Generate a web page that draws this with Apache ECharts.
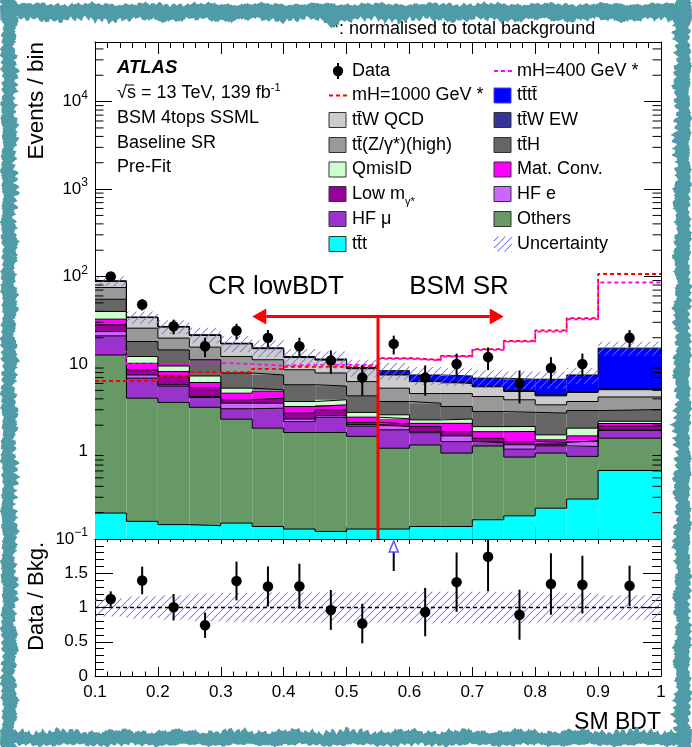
<!DOCTYPE html>
<html>
<head>
<meta charset="utf-8">
<title>SM BDT - BSM 4tops SSML</title>
<script src="https://cdn.jsdelivr.net/npm/echarts@6.0.0/dist/echarts.min.js"></script>
<style>
html, body { margin: 0; padding: 0; background: #ffffff; }
#chart { width: 692px; height: 747px; }
</style>
</head>
<body>
<div id="chart"></div>
<script>
// ---- binning of the SM BDT score ----
const binEdges = [0.10, 0.15, 0.20, 0.25, 0.30, 0.35, 0.40, 0.45, 0.50, 0.55, 0.60, 0.65, 0.70, 0.75, 0.80, 0.85, 0.90, 1.00];

// ---- pre-fit background yields per bin (events / bin) ----
const tttBkg     = [0.198, 0.159, 0.146, 0.142, 0.152, 0.139, 0.130, 0.122, 0.130, 0.130, 0.139, 0.139, 0.166, 0.184, 0.225, 0.286, 0.607];
const othersBkg  = [12.5, 3.91, 3.49, 3.06, 2.19, 1.71, 1.52, 1.53, 1.36, 0.96, 1.05, 0.82, 0.99, 0.68, 0.735, 0.594, 0.813];
const hfMuBkg    = [8.3, 2.83, 1.96, 0.95, 0.74, 1.28, 0.55, 0.80, 0.46, 0.68, 0.45, 0.34, 0.11, 0.20, 0.20, 0.26, 0.32];
const hfEBkg     = [2.5, 0.60, 0.20, 0.11, 0.49, 0.44, 0.15, 0.11, 0.08, 0.16, 0.05, 0.21, 0.03, 0.13, 0.03, 0.16, 0.02];
const lowMBkg    = [4.6, 1.10, 1.50, 1.14, 0.33, 0.50, 0.40, 0.44, 0.12, 0.14, 0.24, 0.18, 0.12, 0.11, 0.08, 0.03, 0.19];
const matConvBkg = [4.5, 1.60, 0.90, 0.75, 0.74, 0.83, 0.52, 0.42, 0.32, 0.30, 0.17, 0.41, 0.27, 0.39, 0.09, 0.18, 0.14];
const qmisIDBkg  = [7.3, 2.00, 1.30, 1.15, 0.66, 0.17, 0.46, 0.48, 0.33, 0.26, 0.20, 0.25, 0.24, 0.24, 0.19, 0.34, 0.13];
const ttHBkg     = [15.1, 5.9, 5.0, 3.9, 2.6, 2.43, 2.07, 1.70, 1.53, 1.10, 1.27, 0.92, 0.94, 0.87, 1.20, 1.09, 0.80];
const ttZBkg     = [20.0, 7.6, 5.3, 4.4, 4.3, 3.7, 2.8, 2.3, 1.97, 1.57, 1.03, 1.33, 1.39, 1.10, 0.67, 0.79, 1.18];
const ttWQCDBkg  = [13.5, 8.3, 6.7, 5.6, 4.8, 3.8, 3.3, 3.2, 2.55, 2.20, 1.70, 1.40, 1.24, 0.95, 0.91, 1.00, 0.89];
const ttWEWBkg   = [0.30, 0.20, 0.20, 0.20, 0.15, 0.15, 0.15, 0.15, 0.15, 0.10, 0.10, 0.10, 0.10, 0.10, 0.10, 0.10, 0.10];
const ttttBkg    = [0.20, 0.20, 0.20, 0.20, 0.15, 0.15, 0.15, 0.15, 0.15, 0.80, 1.10, 1.20, 1.30, 1.75, 2.27, 2.67, 10.0];

// relative uncertainty on the total background
const bkgRelUnc  = [0.13, 0.16, 0.18, 0.20, 0.21, 0.22, 0.22, 0.22, 0.22, 0.22, 0.23, 0.23, 0.23, 0.23, 0.22, 0.21, 0.18];

// ---- observed events ----
const observed   = [100, 48, 27, 16, 24, 20, 16, 11, 7, 17, 7, 10, 12, 6, 9, 10, 20];

// ---- heavy Higgs signals, normalised to total background ----
const signalH1000 = [6.4, 6.4, 7.3, 8.1, 8.1, 8.8, 9.3, 9.3, 9.5, 11.7, 11.2, 12.4, 14.8, 18.4, 24.2, 33.4, 107];
const signalH400  = [13.9, 10.0, 10.0, 10.3, 10.0, 9.6, 9.8, 9.8, 9.8, 11.5, 11.0, 12.2, 14.5, 18.0, 23.5, 32.5, 85.5];

// ---- axis ranges and tick labels ----
const xRange = [0.1, 1.0];
const yMainRange = [0.1, 48000];
const yRatioRange = [0, 2];
const xTickLabels = ['0.1', '0.2', '0.3', '0.4', '0.5', '0.6', '0.7', '0.8', '0.9', '1'];
const ratioTickLabels = ['0', '0.5', '1', '1.5'];

// region annotation (CR lowBDT | BSM SR)
const regionSplit = 0.55;
const arrowFrom = 0.35, arrowTo = 0.75, arrowLevel = 35;

const FONT = '"Liberation Sans", Arial, Helvetica, sans-serif';
const TB = 't\u0304';
const HATCH = '#6b6bff';

const components = [
  { name: 'ttt',      values: tttBkg,     color: '#00ffff' },
  { name: 'Others',   values: othersBkg,  color: '#669966' },
  { name: 'HF mu',    values: hfMuBkg,    color: '#9933cc' },
  { name: 'HF e',     values: hfEBkg,     color: '#cc66ff' },
  { name: 'Low m',    values: lowMBkg,    color: '#990099' },
  { name: 'Mat Conv', values: matConvBkg, color: '#ff00ff' },
  { name: 'QmisID',   values: qmisIDBkg,  color: '#ccffcc' },
  { name: 'ttH',      values: ttHBkg,     color: '#666666' },
  { name: 'ttZ',      values: ttZBkg,     color: '#999999' },
  { name: 'ttW QCD',  values: ttWQCDBkg,  color: '#cccccc' },
  { name: 'ttW EW',   values: ttWEWBkg,   color: '#333399' },
  { name: 'tttt',     values: ttttBkg,    color: '#0000ff' }
];

const nBins = binEdges.length - 1;
const centers = [];
for (let i = 0; i < nBins; i++) centers.push((binEdges[i] + binEdges[i + 1]) / 2);

// cumulative stack boundaries
const cumulative = [];
let running = new Array(nBins).fill(0);
components.forEach(c => {
  const lo = running.slice();
  const hi = running.map((v, i) => v + c.values[i]);
  cumulative.push({ lo, hi });
  running = hi;
});
const totalBkg = running;

// "///" hatch strokes inside a pixel rectangle (lines x + y = const), drawn as thin filled slivers
function hatchElements(x0, y0, x1, y1, period, color) {
  const out = [];
  const w = 0.6;
  const start = Math.ceil((x0 + y0) / period) * period;
  for (let c = start; c <= x1 + y1; c += period) {
    const xa = Math.max(x0, c - y1), xb = Math.min(x1, c - y0);
    if (xb - xa < 0.5) continue;
    const ya = c - xa, yb = c - xb;
    out.push({
      type: 'polygon',
      shape: { points: [[xa - w, ya], [xb - w, yb], [xb + w, yb], [xa + w, ya]] },
      style: { fill: color, stroke: null }
    });
  }
  return out;
}

function clampY(y, cs) { return Math.max(cs.y, Math.min(cs.y + cs.height, y)); }

// filled bins between two boundaries
function binBoxes(lo, hi, fill, xi, yi, z) {
  return {
    type: 'custom', xAxisIndex: xi, yAxisIndex: yi, z: z, silent: true,
    itemStyle: { color: fill },
    data: lo.map((l, i) => [binEdges[i], binEdges[i + 1], l, hi[i]]),
    renderItem: (params, api) => {
      const cs = params.coordSys;
      const a = api.coord([api.value(0), api.value(3)]);
      const b = api.coord([api.value(1), Math.max(api.value(2), 1e-4)]);
      const y0 = clampY(a[1], cs), y1 = clampY(b[1], cs);
      return { type: 'rect', shape: { x: a[0], y: y0, width: b[0] - a[0], height: y1 - y0 }, style: { fill: fill } };
    }
  };
}

// hatched band between two boundaries
function hatchBand(lo, hi, xi, yi, z) {
  return {
    type: 'custom', xAxisIndex: xi, yAxisIndex: yi, z: z, silent: true,
    itemStyle: { color: HATCH, borderColor: HATCH },
    data: lo.map((l, i) => [binEdges[i], binEdges[i + 1], l, hi[i]]),
    renderItem: (params, api) => {
      const cs = params.coordSys;
      const a = api.coord([api.value(0), api.value(3)]);
      const b = api.coord([api.value(1), Math.max(api.value(2), 1e-4)]);
      return { type: 'group', children: hatchElements(a[0], clampY(a[1], cs), b[0], clampY(b[1], cs), 8, HATCH) };
    }
  };
}

// step outline through the bin contents
function stepLine(values, color, width, dash, xi, yi, z) {
  const pts = binEdges.map((e, i) => [e, values[Math.min(i, nBins - 1)]]);
  return {
    type: 'line', step: 'end', xAxisIndex: xi, yAxisIndex: yi, z: z, silent: true,
    data: pts, symbol: 'none', animation: false,
    lineStyle: { color: color, width: width, type: dash || 'solid' }
  };
}

const series = [];

// stacked backgrounds
components.forEach((c, k) => {
  series.push(binBoxes(cumulative[k].lo, cumulative[k].hi, c.color, 0, 0, 2));
});
components.forEach((c, k) => {
  series.push(stepLine(cumulative[k].hi, '#000000', 1, null, 0, 0, 3));
});

// signals
series.push(stepLine(signalH1000, '#ff0000', 1.8, [4, 3], 0, 0, 4));
series.push(stepLine(signalH400, '#ff00ff', 1.8, [4, 3], 0, 0, 4));

// uncertainty band on the stack
series.push(hatchBand(totalBkg.map((t, i) => t * (1 - bkgRelUnc[i])), totalBkg.map((t, i) => t * (1 + bkgRelUnc[i])), 0, 0, 5));

// log minor ticks on both sides of the main panel
const logMinor = [];
for (let e = -1; e <= 4; e++) for (let m = 2; m <= 9; m++) {
  const v = m * Math.pow(10, e);
  if (v < yMainRange[1]) logMinor.push([xRange[0], v]);
}
series.push({
  type: 'custom', xAxisIndex: 0, yAxisIndex: 0, z: 20, silent: true, data: logMinor,
  itemStyle: { color: '#000', borderColor: '#000' },
  renderItem: (params, api) => {
    const cs = params.coordSys;
    const p = api.coord([api.value(0), api.value(1)]);
    const st = { stroke: '#000', lineWidth: 1 };
    return { type: 'group', children: [
      { type: 'line', shape: { x1: cs.x, y1: p[1], x2: cs.x + 8.5, y2: p[1] }, style: st },
      { type: 'line', shape: { x1: cs.x + cs.width - 8.5, y1: p[1], x2: cs.x + cs.width, y2: p[1] }, style: st }
    ] };
  }
});

// region separation and arrows
series.push({
  type: 'custom', xAxisIndex: 0, yAxisIndex: 0, z: 8, silent: true,
  itemStyle: { color: '#ff0000', borderColor: '#ff0000' },
  data: [[regionSplit, arrowLevel, arrowFrom, arrowTo]],
  renderItem: (params, api) => {
    const cs = params.coordSys;
    const mid = api.coord([api.value(0), api.value(1)]);
    const left = api.coord([api.value(2), api.value(1)]);
    const right = api.coord([api.value(3), api.value(1)]);
    const red = '#ff0000';
    const head = 14, half = 8;
    return { type: 'group', children: [
      { type: 'line', shape: { x1: mid[0], y1: mid[1], x2: mid[0], y2: cs.y + cs.height }, style: { stroke: red, lineWidth: 3 } },
      { type: 'line', shape: { x1: left[0] + head, y1: mid[1], x2: right[0] - head, y2: mid[1] }, style: { stroke: red, lineWidth: 3 } },
      { type: 'polygon', shape: { points: [[left[0], mid[1]], [left[0] + head, mid[1] - half], [left[0] + head, mid[1] + half]] }, style: { fill: red } },
      { type: 'polygon', shape: { points: [[right[0], mid[1]], [right[0] - head, mid[1] - half], [right[0] - head, mid[1] + half]] }, style: { fill: red } }
    ] };
  }
});

// observed data with Poisson errors
function errorBars(points, xi, yi, z) {
  return {
    type: 'custom', xAxisIndex: xi, yAxisIndex: yi, z: z, silent: true, data: points,
    itemStyle: { color: '#000', borderColor: '#000' },
    renderItem: (params, api) => {
      const cs = params.coordSys;
      const a = api.coord([api.value(0), api.value(1)]);
      const b = api.coord([api.value(0), api.value(2)]);
      return { type: 'line', shape: { x1: a[0], y1: clampY(a[1], cs), x2: b[0], y2: clampY(b[1], cs) }, style: { stroke: '#000', lineWidth: 2 } };
    }
  };
}
series.push(errorBars(observed.map((n, i) => [centers[i], n - Math.sqrt(n), n + Math.sqrt(n)]), 0, 0, 10));
series.push({
  type: 'scatter', xAxisIndex: 0, yAxisIndex: 0, z: 11, silent: true,
  data: observed.map((n, i) => [centers[i], n]),
  symbol: 'circle', symbolSize: 10.5, itemStyle: { color: '#000', opacity: 1 }
});

// ---- ratio panel ----
const ratio = observed.map((n, i) => n / totalBkg[i]);
const ratioErr = observed.map((n, i) => Math.sqrt(n) / totalBkg[i]);

series.push(hatchBand(bkgRelUnc.map(u => 1 - u), bkgRelUnc.map(u => 1 + u), 2, 2, 2));
series.push({
  type: 'line', xAxisIndex: 2, yAxisIndex: 2, z: 4, silent: true, symbol: 'none',
  data: [[xRange[0], 1], [xRange[1], 1]],
  lineStyle: { color: '#000', width: 1.5, type: [4, 3] }
});
const inRange = [], overflow = [];
ratio.forEach((r, i) => {
  if (r <= yRatioRange[1]) inRange.push(i); else overflow.push(i);
});
series.push(errorBars(inRange.map(i => [centers[i], ratio[i] - ratioErr[i], ratio[i] + ratioErr[i]]), 2, 2, 10));
series.push({
  type: 'scatter', xAxisIndex: 2, yAxisIndex: 2, z: 11, silent: true,
  data: inRange.map(i => [centers[i], ratio[i]]),
  symbol: 'circle', symbolSize: 10.5, itemStyle: { color: '#000', opacity: 1 }
});
// points above the ratio range: open arrow at the top edge
series.push({
  type: 'custom', xAxisIndex: 2, yAxisIndex: 2, z: 11, silent: true,
  itemStyle: { color: '#ffffff', borderColor: '#5555ff' },
  data: overflow.map(i => [centers[i], ratio[i] - ratioErr[i]]),
  renderItem: (params, api) => {
    const cs = params.coordSys;
    const low = api.coord([api.value(0), api.value(1)]);
    const x = low[0], top = cs.y + 2, base = cs.y + 13;
    return { type: 'group', children: [
      { type: 'line', shape: { x1: x, y1: base, x2: x, y2: low[1] }, style: { stroke: '#000', lineWidth: 2 } },
      { type: 'polygon', shape: { points: [[x, top], [x - 4.5, base], [x + 4.5, base]] }, style: { fill: '#ffffff', stroke: '#5555ff', lineWidth: 1.5 } }
    ] };
  }
});

// ---- axes ----
const black = { color: '#000', width: 1 };
function xAx(grid, pos, major, minor, labels) {
  return {
    type: 'value', gridIndex: grid, position: pos, min: xRange[0], max: xRange[1], interval: 0.1,
    axisLine: { show: true, onZero: false, lineStyle: black },
    axisTick: { show: true, inside: true, length: major, lineStyle: black },
    minorTick: { show: true, splitNumber: 5, length: minor, lineStyle: black },
    splitLine: { show: false },
    axisLabel: labels ? {
      show: true, margin: 8, fontSize: 17, fontFamily: FONT, color: '#000', showMinLabel: true, showMaxLabel: true,
      formatter: v => xTickLabels[Math.round((v - xRange[0]) * 10)] || ''
    } : { show: false }
  };
}
function supLabel(v) {
  const e = Math.log10(v), r = Math.round(e);
  if (Math.abs(e - r) > 1e-6) return '';
  if (r === 0) return '1';
  if (r === 1) return '10';
  return '10{sup|' + (r < 0 ? '\u2212' : '') + Math.abs(r) + '}';
}
const option = {
  animation: false,
  backgroundColor: '#ffffff',
  grid: [
    { left: 95, top: 42, width: 566, height: 497, show: false },
    { left: 95, top: 539, width: 566, height: 137, show: false }
  ],
  xAxis: [
    xAx(0, 'bottom', 12, 6, false),
    xAx(0, 'top', 12, 6, false),
    xAx(1, 'bottom', 9, 4.5, true),
    xAx(1, 'top', 5, 3, false)
  ],
  yAxis: [
    {
      type: 'log', logBase: 10, gridIndex: 0, position: 'left', min: yMainRange[0], max: yMainRange[1],
      axisLine: { show: true, onZero: false, lineStyle: black },
      axisTick: { show: true, inside: true, length: 17, lineStyle: black },
      splitLine: { show: false },
      axisLabel: {
        show: true, margin: 7, fontSize: 17, fontFamily: FONT, color: '#000',
        formatter: supLabel,
        rich: { sup: { fontSize: 12, fontFamily: FONT, color: '#000', padding: [0, 0, 12, 0] } }
      }
    },
    {
      type: 'log', logBase: 10, gridIndex: 0, position: 'right', min: yMainRange[0], max: yMainRange[1],
      axisLine: { show: true, onZero: false, lineStyle: black },
      axisTick: { show: true, inside: true, length: 17, lineStyle: black },
      splitLine: { show: false }, axisLabel: { show: false }
    },
    {
      type: 'value', gridIndex: 1, position: 'left', min: yRatioRange[0], max: yRatioRange[1], interval: 0.5,
      axisLine: { show: true, onZero: false, lineStyle: black },
      axisTick: { show: true, inside: true, length: 18, lineStyle: black },
      minorTick: { show: true, splitNumber: 5, length: 9, lineStyle: black },
      splitLine: { show: false },
      axisLabel: {
        show: true, margin: 7, fontSize: 17, fontFamily: FONT, color: '#000', showMinLabel: true, showMaxLabel: true,
        formatter: v => ratioTickLabels[Math.round(v * 2)] || ''
      }
    },
    {
      type: 'value', gridIndex: 1, position: 'right', min: yRatioRange[0], max: yRatioRange[1], interval: 0.5,
      axisLine: { show: true, onZero: false, lineStyle: black },
      axisTick: { show: true, inside: true, length: 18, lineStyle: black },
      minorTick: { show: true, splitNumber: 5, length: 9, lineStyle: black },
      splitLine: { show: false }, axisLabel: { show: false }
    }
  ],
  series: series
};

// ---- text, legend and frame ----
const graphics = [];
const TXT = 18;
function text(x, y, str, size, extra) {
  const st = Object.assign({ text: str, fontSize: size, fontFamily: FONT, fill: '#000', align: 'left', verticalAlign: 'middle' }, extra || {});
  return { type: 'text', x: x, y: y, z: 50, silent: true, style: st };
}
graphics.push(text(117, 68, 'ATLAS', 18.5, { fontWeight: 'bold', fontStyle: 'italic' }));
graphics.push(text(117, 93, '\u221As = 13 TeV, 139 fb{sup|-1}', TXT, { rich: { sup: { fontSize: 11, fontFamily: FONT, fill: '#000', padding: [0, 0, 11, 0] } } }));
graphics.push({ type: 'line', z: 50, silent: true, shape: { x1: 126, y1: 85, x2: 134, y2: 85 }, style: { stroke: '#000', lineWidth: 1 } });
graphics.push(text(117, 118, 'BSM 4tops SSML', TXT));
graphics.push(text(117, 143, 'Baseline SR', TXT));
graphics.push(text(117, 167, 'Pre-Fit', TXT));
graphics.push(text(332, 29, '*: normalised to total background', TXT));

graphics.push(text(276, 287, 'CR lowBDT', 26, { align: 'center' }));
graphics.push(text(459, 287, 'BSM SR', 26, { align: 'center' }));

graphics.push({ type: 'text', x: 37, y: 42, rotation: Math.PI / 2, z: 50, silent: true,
  style: { text: 'Events / bin', fontSize: 22.5, fontFamily: FONT, fill: '#000', align: 'right', verticalAlign: 'middle' } });
graphics.push({ type: 'text', x: 37, y: 542, rotation: Math.PI / 2, z: 50, silent: true,
  style: { text: 'Data / Bkg.', fontSize: 22, fontFamily: FONT, fill: '#000', align: 'right', verticalAlign: 'middle' } });
graphics.push(text(661, 723, 'SM BDT', 23, { align: 'right' }));

// legend
const rowY = [71, 95.5, 120, 145, 169.5, 194, 219, 244];
const col1 = 329, col2 = 494, boxW = 17, boxH = 15;
function legBox(x, y, fill, stroke) {
  return { type: 'rect', z: 50, silent: true, shape: { x: x, y: y - boxH / 2, width: boxW, height: boxH }, style: { fill: fill, stroke: stroke, lineWidth: 1 } };
}
function legDash(x, y, color) {
  return { type: 'line', z: 50, silent: true, shape: { x1: x, y1: y, x2: x + 19, y2: y }, style: { stroke: color, lineWidth: 1.8, lineDash: [4, 3] } };
}
// column 1
graphics.push({ type: 'line', z: 50, silent: true, shape: { x1: 338, y1: rowY[0] - 8, x2: 338, y2: rowY[0] + 8 }, style: { stroke: '#000', lineWidth: 2 } });
graphics.push({ type: 'circle', z: 51, silent: true, shape: { cx: 338, cy: rowY[0], r: 5.2 }, style: { fill: '#000' } });
graphics.push(text(352, rowY[0], 'Data', TXT));
graphics.push(legDash(col1, rowY[1], '#ff0000'));
graphics.push(text(352, rowY[1], 'mH=1000 GeV *', TXT));
graphics.push(legBox(col1, rowY[2], '#cccccc', '#333'));
graphics.push(text(352, rowY[2], 't' + TB + 'W QCD', TXT));
graphics.push(legBox(col1, rowY[3], '#999999', '#333'));
graphics.push(text(352, rowY[3], 't' + TB + '(Z/\u03B3*)(high)', TXT));
graphics.push(legBox(col1, rowY[4], '#ccffcc', '#333'));
graphics.push(text(352, rowY[4], 'QmisID', TXT));
graphics.push(legBox(col1, rowY[5], '#990099', '#333'));
graphics.push(text(352, rowY[5], 'Low m', TXT));
graphics.push(text(405, rowY[5] + 8, '\u03B3*', 11));
graphics.push(legBox(col1, rowY[6], '#9933cc', '#333'));
graphics.push(text(352, rowY[6], 'HF \u03BC', TXT));
graphics.push(legBox(col1, rowY[7], '#00ffff', '#333'));
graphics.push(text(352, rowY[7], 't' + TB + 't', TXT));
// column 2
graphics.push(legDash(col2, rowY[0], '#ff00ff'));
graphics.push(text(517, rowY[0], 'mH=400 GeV *', TXT));
graphics.push(legBox(col2, rowY[1], '#0000ff', '#4444ff'));
graphics.push(text(517, rowY[1], 't' + TB + 't' + TB, TXT));
graphics.push(legBox(col2, rowY[2], '#333399', '#333'));
graphics.push(text(517, rowY[2], 't' + TB + 'W EW', TXT));
graphics.push(legBox(col2, rowY[3], '#666666', '#333'));
graphics.push(text(517, rowY[3], 't' + TB + 'H', TXT));
graphics.push(legBox(col2, rowY[4], '#ff00ff', '#333'));
graphics.push(text(517, rowY[4], 'Mat. Conv.', TXT));
graphics.push(legBox(col2, rowY[5], '#cc66ff', '#333'));
graphics.push(text(517, rowY[5], 'HF e', TXT));
graphics.push(legBox(col2, rowY[6], '#669966', '#333'));
graphics.push(text(517, rowY[6], 'Others', TXT));
graphics.push({ type: 'group', z: 50, silent: true, children: hatchElements(col2, rowY[7] - boxH / 2, col2 + boxW + 1, rowY[7] + boxH / 2, 7, HATCH) });
graphics.push(text(517, rowY[7], 'Uncertainty', TXT));

// rough teal frame around the figure
function wob(t, s) {
  return 1.4 * Math.sin(t * 0.11 + s) + 1.2 * Math.sin(t * 0.37 + 2.1 * s) + 1.0 * Math.sin(t * 0.93 + 0.7 * s)
       + 0.9 * Math.sin(t * 2.3 + 1.9 * s) + 0.8 * Math.sin(t * 5.1 + 3.3 * s) + 0.6 * Math.sin(t * 11.7 + 4.1 * s);
}
const W = 692, H = 747, teal = '#4f9ba7';
function bandPoly(horizontal, outer, inner, seedO, seedI, dip) {
  const pts = [];
  const len = horizontal ? W : H;
  for (let t = 0; t <= len; t += 1.5) {
    const o = outer + 0.6 * wob(t, seedO);
    pts.push(horizontal ? [t, o] : [o, t]);
  }
  for (let t = len; t >= 0; t -= 1.5) {
    let v = inner + wob(t, seedI);
    if (dip && t > dip[0] && t < dip[1]) v += dip[2] * Math.sin(Math.PI * (t - dip[0]) / (dip[1] - dip[0]));
    pts.push(horizontal ? [t, v] : [v, t]);
  }
  return { type: 'polygon', z: 90, silent: true, shape: { points: pts }, style: { fill: teal } };
}
graphics.push(bandPoly(true, 4, 20, 1.0, 2.0, [320, 342, 5]));
graphics.push(bandPoly(true, 745, 731, 3.0, 4.0));
graphics.push(bandPoly(false, 2, 16, 5.0, 6.0));
graphics.push(bandPoly(false, 690, 675, 7.0, 8.0));

option.graphic = { elements: graphics };

const chart = echarts.init(document.getElementById('chart'), null, { renderer: 'canvas' });
chart.setOption(option);
</script>
</body>
</html>
